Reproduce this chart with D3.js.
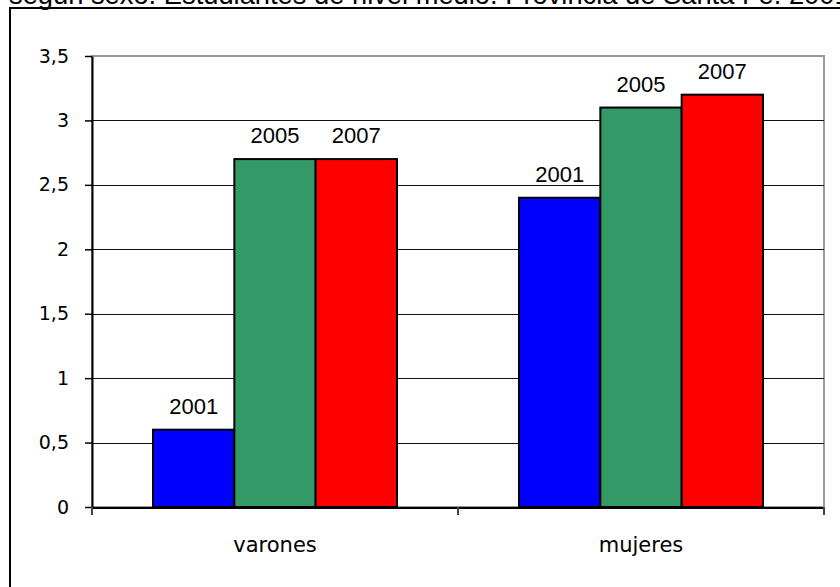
<!DOCTYPE html>
<html>
<head>
<meta charset="utf-8">
<script src="https://cdn.jsdelivr.net/npm/d3@7"></script>
<style>
  body { margin: 0; background: #fff; }
  svg { display: block; }
</style>
</head>
<body>
<div id="chart"></div>
<script>
// data
const categories = ['varones', 'mujeres'];
const years = ['2001', '2005', '2007'];
const varones = [0.6, 2.7, 2.7];
const mujeres = [2.4, 3.1, 3.2];
const yTicks = [0, 0.5, 1, 1.5, 2, 2.5, 3, 3.5];
const colors = ['#0000ff', '#339966', '#ff0000'];
const title = 'según sexo. Estudiantes de nivel medio. Provincia de Santa Fe. 2001-2007';

const width = 840, height = 587;
const plot = { left: 92, right: 824, top: 56, bottom: 507 };

const rows = categories.map((c, i) => ({
  category: c,
  values: years.map((y, j) => ({ year: y, value: [varones, mujeres][i][j] }))
}));

const svg = d3.select('#chart').append('svg')
  .attr('width', width)
  .attr('height', height);

// outer frame of the chart object (runs off the page right and bottom)
svg.append('rect')
  .attr('x', 10).attr('y', 8)
  .attr('width', width + 20).attr('height', height + 20)
  .attr('fill', '#fff')
  .attr('stroke', '#000')
  .attr('stroke-width', 2);

// title, clipped by the top of the page as in the source
svg.append('text')
  .attr('x', 9).attr('y', 4)
  .attr('font-family', 'Liberation Sans, Arial, sans-serif')
  .attr('font-size', 27.3)
  .attr('fill', '#000')
  .text(title);

const x0 = d3.scaleBand()
  .domain(categories)
  .range([plot.left, plot.right]);

// excel style: gap width 150% of one bar
const bw = x0.bandwidth();
const x1 = d3.scaleBand()
  .domain(years)
  .range([bw * 0.75 / 4.5, bw * 3.75 / 4.5]);

const y = d3.scaleLinear()
  .domain([0, 3.5])
  .range([plot.bottom, plot.top]);

// plot area border
svg.append('rect')
  .attr('x', plot.left).attr('y', plot.top)
  .attr('width', plot.right - plot.left)
  .attr('height', plot.bottom - plot.top)
  .attr('fill', '#fff')
  .attr('stroke', '#9a9a9a')
  .attr('stroke-width', 2);

// gridlines
svg.append('g')
  .selectAll('line')
  .data(yTicks.filter(d => d > 0 && d < 3.5))
  .join('line')
  .attr('x1', plot.left).attr('x2', plot.right)
  .attr('y1', d => Math.round(y(d)) + 0.5)
  .attr('y2', d => Math.round(y(d)) + 0.5)
  .attr('stroke', '#111')
  .attr('stroke-width', 1);

// bars
const group = svg.append('g')
  .selectAll('g')
  .data(rows)
  .join('g')
  .attr('transform', d => `translate(${x0(d.category)},0)`);

group.selectAll('rect')
  .data(d => d.values)
  .join('rect')
  .attr('x', d => x1(d.year))
  .attr('y', d => y(d.value))
  .attr('width', x1.bandwidth())
  .attr('height', d => y(0) - y(d.value))
  .attr('fill', (d, i) => colors[i])
  .attr('stroke', '#000')
  .attr('stroke-width', 2);

group.selectAll('text')
  .data(d => d.values)
  .join('text')
  .attr('x', d => x1(d.year) + x1.bandwidth() / 2)
  .attr('y', d => y(d.value) - 16)
  .attr('text-anchor', 'middle')
  .attr('font-family', 'Liberation Sans, Arial, sans-serif')
  .attr('font-size', 22)
  .attr('fill', '#000')
  .text(d => d.year);

// y axis
const fmt = d => String(d).replace('.', ',');
const yAxis = svg.append('g')
  .attr('transform', `translate(${plot.left},0)`)
  .call(d3.axisLeft(y).tickValues(yTicks).tickFormat(fmt).tickSize(7).tickSizeOuter(0).tickPadding(16));
yAxis.select('.domain').attr('stroke', '#000').attr('stroke-width', 2);
yAxis.selectAll('.tick line').attr('stroke', '#000').attr('stroke-width', 1.5);
yAxis.selectAll('.tick text')
  .attr('font-family', 'DejaVu Sans, Verdana, sans-serif')
  .attr('font-size', 19)
  .attr('fill', '#000');
// axis line reaches a bit below zero, like the category ticks
svg.append('line')
  .attr('x1', plot.left).attr('x2', plot.left)
  .attr('y1', plot.bottom).attr('y2', plot.bottom + 8)
  .attr('stroke', '#000').attr('stroke-width', 2);

// x axis
svg.append('line')
  .attr('x1', plot.left).attr('x2', plot.right)
  .attr('y1', plot.bottom + 1).attr('y2', plot.bottom + 1)
  .attr('stroke', '#000').attr('stroke-width', 2);

svg.append('g')
  .selectAll('line')
  .data(categories.map(c => x0(c)).concat([plot.right]))
  .join('line')
  .attr('x1', d => d).attr('x2', d => d)
  .attr('y1', plot.bottom).attr('y2', plot.bottom + 8)
  .attr('stroke', '#444').attr('stroke-width', 2);

svg.append('g')
  .selectAll('text')
  .data(categories)
  .join('text')
  .attr('x', d => x0(d) + bw / 2)
  .attr('y', 552)
  .attr('text-anchor', 'middle')
  .attr('font-family', 'DejaVu Sans, Verdana, sans-serif')
  .attr('font-size', 21)
  .attr('fill', '#000')
  .text(d => d);
</script>
</body>
</html>
